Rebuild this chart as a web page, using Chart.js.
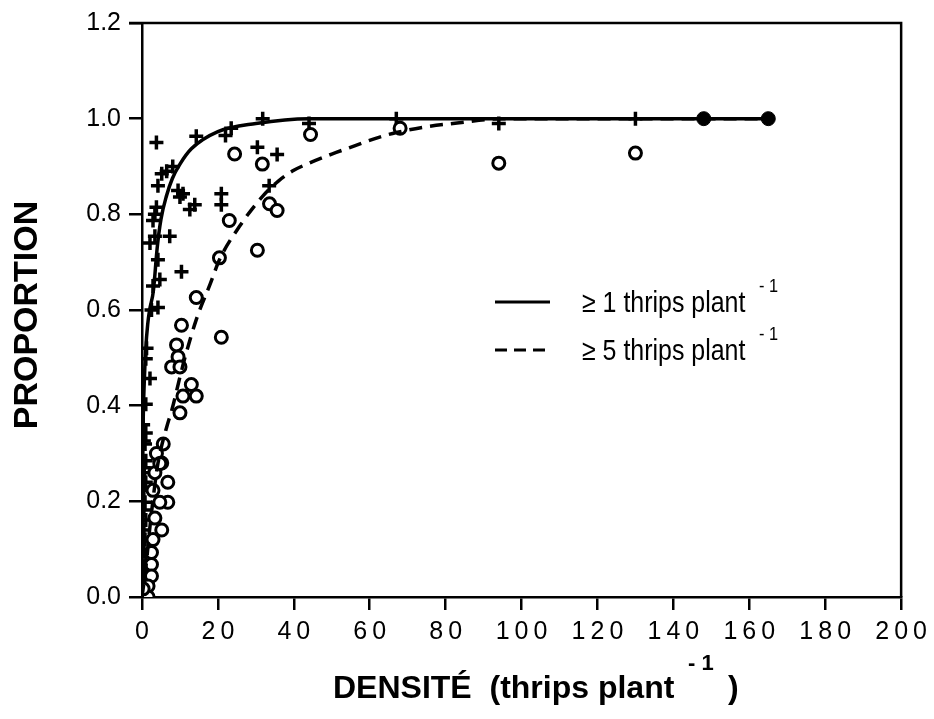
<!DOCTYPE html>
<html>
<head>
<meta charset="utf-8">
<script src="https://cdn.jsdelivr.net/npm/chart.js@4/dist/chart.umd.min.js"></script>
<style>
  html, body { margin: 0; padding: 0; background: #fff; }
  #wrap { width: 934px; height: 719px; position: relative; }
</style>
</head>
<body>
<div id="wrap"><canvas id="chart"></canvas></div>
<script>
// tick labels
var xTicks = [0, 20, 40, 60, 80, 100, 120, 140, 160, 180, 200];
var yTicks = [0, 0.2, 0.4, 0.6, 0.8, 1.0, 1.2];

// observed proportions, >= 1 thrips per plant (crosses)
var crossX = [3.8, 14.3, 23.5, 22, 31.8, 44, 67, 94, 130, 30.4, 35.6, 33.5, 20.9, 20.9, 13.9, 12.6,
  10.8, 10, 9.5, 8.1, 6.5, 5.2, 4.2, 3.8, 3.4, 2.9, 7.3, 3.4, 2.1, 4.2, 10.4, 4.7, 2.9, 4.2, 2.5,
  1.2, 1, 2.1, 1, 0.3, 1, 0.5, 0.5, 0.8, 1, 0.6, 1, 0.5, 0.8, 0.5, 1, 0.5, 0.8, 0.5, 1, 0.4, 0.8, 0.3, 0.5];
var crossY = [0.95, 0.963, 0.98, 0.965, 1.0, 0.99, 1.0, 0.99, 1.0, 0.94, 0.925, 0.86, 0.843, 0.82, 0.82, 0.81,
  0.843, 0.836, 0.85, 0.9, 0.89, 0.885, 0.86, 0.815, 0.8, 0.787, 0.754, 0.754, 0.74, 0.705, 0.68, 0.664, 0.65, 0.605, 0.6,
  0.52, 0.498, 0.457, 0.403, 0.36, 0.343, 0.326, 0.27, 0.32, 0.285, 0.26, 0.24, 0.223, 0.198, 0.182, 0.161, 0.14, 0.12, 0.1, 0.085, 0.064, 0.043, 0.023, 0.0];

// observed proportions, >= 5 thrips per plant (open circles)
var circX = [68, 44.4, 94, 130, 24.4, 31.7, 33.6, 35.6, 23, 30.4, 20.4, 14.3, 10.4, 20.9, 9.1, 9.5, 7.8, 10,
  13, 10.8, 14.3, 10, 5.6, 3.8, 5.2, 3.4, 4.7, 6.8, 2.9, 6.8, 4.7, 3.4, 5.2, 2.9, 2.5, 2.5, 2.5, 1.6, 1.6, 0.3];
var circY = [0.98, 0.967, 0.907, 0.928, 0.926, 0.905, 0.822, 0.808, 0.787, 0.725, 0.709, 0.626, 0.568, 0.543, 0.527, 0.502, 0.481, 0.481,
  0.444, 0.42, 0.42, 0.385, 0.32, 0.3, 0.28, 0.26, 0.279, 0.24, 0.223, 0.198, 0.198, 0.165, 0.14, 0.12, 0.093, 0.068, 0.044, 0.023, 0.0, 0.017];

// both classes at highest densities (filled dots)
var fullX = [148, 165];
var fullY = [1.0, 1.0];

// fitted curves
var fit1X = [0, 0.1, 0.3, 0.6, 1, 1.5, 2, 3, 4, 5, 6.5, 8, 10, 13, 20, 30, 44, 80, 130, 165];
var fit1Y = [0, 0.2, 0.36, 0.45, 0.52, 0.57, 0.6, 0.64, 0.73, 0.79, 0.84, 0.875, 0.905, 0.937, 0.973, 0.99, 1.0, 1.0, 1.0, 1.0];
var fit5X = [0, 1, 2, 3, 4, 5, 6.5, 8, 10, 11.3, 14.3, 18, 20.4, 25.7, 31.7, 36, 40, 44, 50, 56, 62, 67, 75, 83, 95, 130, 165];
var fit5Y = [0, 0.06, 0.14, 0.21, 0.27, 0.31, 0.355, 0.395, 0.46, 0.5, 0.58, 0.655, 0.705, 0.775, 0.837, 0.87, 0.892, 0.907, 0.926, 0.943, 0.96, 0.971, 0.983, 0.991, 1.0, 1.0, 1.0];

function pts(xs, ys) {
    return xs.map(function (x, i) { return {x: x, y: ys[i]}; });
}

function thin(v) {
    return String(v).split('').join('\u2009');
}

var decor = {
    id: 'decor',
    afterDraw: function (chart) {
        var ctx = chart.ctx;
        var a = chart.chartArea;
        ctx.save();
        ctx.strokeStyle = '#000';
        ctx.lineWidth = 2.5;
        ctx.beginPath();
        ctx.moveTo(a.left - 13, a.top);
        ctx.lineTo(a.right, a.top);
        ctx.lineTo(a.right, a.bottom);
        ctx.stroke();

        // legend
        ctx.lineWidth = 3;
        ctx.beginPath();
        ctx.moveTo(495, 302);
        ctx.lineTo(550, 302);
        ctx.stroke();
        ctx.setLineDash([12, 7]);
        ctx.beginPath();
        ctx.moveTo(495, 350);
        ctx.lineTo(550, 350);
        ctx.stroke();
        ctx.setLineDash([]);

        ctx.fillStyle = '#000';
        ctx.textBaseline = 'alphabetic';
        ctx.textAlign = 'left';
        var rows = [['\u2265 1 thrips plant', 312], ['\u2265 5 thrips plant', 360]];
        rows.forEach(function (r) {
            ctx.save();
            ctx.translate(582, r[1]);
            ctx.scale(0.86, 1);
            ctx.font = '29px "Liberation Sans", Arial, sans-serif';
            ctx.fillText(r[0], 0, 0);
            ctx.restore();
            ctx.save();
            ctx.translate(759, r[1] - 20);
            ctx.scale(0.86, 1);
            ctx.font = '19px "Liberation Sans", Arial, sans-serif';
            ctx.fillText('- 1', 0, 0);
            ctx.restore();
        });

        // axis titles
        ctx.font = 'bold 32px "Liberation Sans", Arial, sans-serif';
        ctx.fillText('DENSIT\u00c9  (thrips plant', 333, 698);
        ctx.fillText(')', 728, 698);
        ctx.font = 'bold 22px "Liberation Sans", Arial, sans-serif';
        ctx.fillText('- 1', 688, 670);

        ctx.translate(28, 315);
        ctx.rotate(-Math.PI / 2);
        ctx.textAlign = 'center';
        ctx.textBaseline = 'middle';
        ctx.font = 'bold 34px "Liberation Sans", Arial, sans-serif';
        ctx.fillText('PROPORTION', 0, 0);
        ctx.restore();
    }
};

var tickFont = {family: '"Liberation Sans", Arial, sans-serif', size: 25};

new Chart(document.getElementById('chart'), {
    type: 'scatter',
    data: {
        datasets: [
            {
                type: 'line',
                data: pts(fit1X, fit1Y),
                borderColor: '#000',
                borderWidth: 3.5,
                pointRadius: 0,
                cubicInterpolationMode: 'monotone',
                fill: false
            },
            {
                type: 'line',
                data: pts(fit5X, fit5Y),
                borderColor: '#000',
                borderWidth: 3.5,
                borderDash: [13, 8],
                pointRadius: 0,
                cubicInterpolationMode: 'monotone',
                fill: false
            },
            {
                data: pts(circX, circY),
                pointStyle: 'circle',
                pointRadius: 6,
                borderWidth: 3,
                borderColor: '#000',
                backgroundColor: '#fff'
            },
            {
                data: pts(crossX, crossY),
                pointStyle: 'cross',
                pointRadius: 7,
                borderWidth: 3.5,
                borderColor: '#000'
            },
            {
                data: pts(fullX, fullY),
                pointStyle: 'circle',
                pointRadius: 7,
                borderWidth: 1,
                borderColor: '#000',
                backgroundColor: '#000'
            }
        ]
    },
    options: {
        responsive: true,
        maintainAspectRatio: false,
        animation: false,
        layout: {padding: {top: 15, right: 30, left: 0, bottom: 0}},
        plugins: {
            legend: {display: false},
            tooltip: {enabled: false}
        },
        scales: {
            x: {
                type: 'linear',
                min: 0,
                max: 200,
                afterFit: function (s) { s.height = 122; },
                afterBuildTicks: function (s) {
                    s.ticks = xTicks.map(function (v) { return {value: v}; });
                },
                ticks: {
                    color: '#000',
                    font: tickFont,
                    padding: 7,
                    maxRotation: 0,
                    callback: function (v) { return thin(v); }
                },
                grid: {display: true, drawOnChartArea: false, drawTicks: true, tickLength: 13, color: '#000', lineWidth: 2.5},
                border: {display: true, color: '#000', width: 2.5}
            },
            y: {
                type: 'linear',
                min: 0,
                max: 1.2,
                afterFit: function (s) { s.width = 142; },
                afterBuildTicks: function (s) {
                    s.ticks = yTicks.map(function (v) { return {value: v}; });
                },
                ticks: {
                    color: '#000',
                    font: tickFont,
                    padding: 8,
                    callback: function (v) { return v.toFixed(1); }
                },
                grid: {display: true, drawOnChartArea: false, drawTicks: true, tickLength: 13, color: '#000', lineWidth: 2.5},
                border: {display: true, color: '#000', width: 2.5}
            }
        }
    },
    plugins: [decor]
});
</script>
</body>
</html>
